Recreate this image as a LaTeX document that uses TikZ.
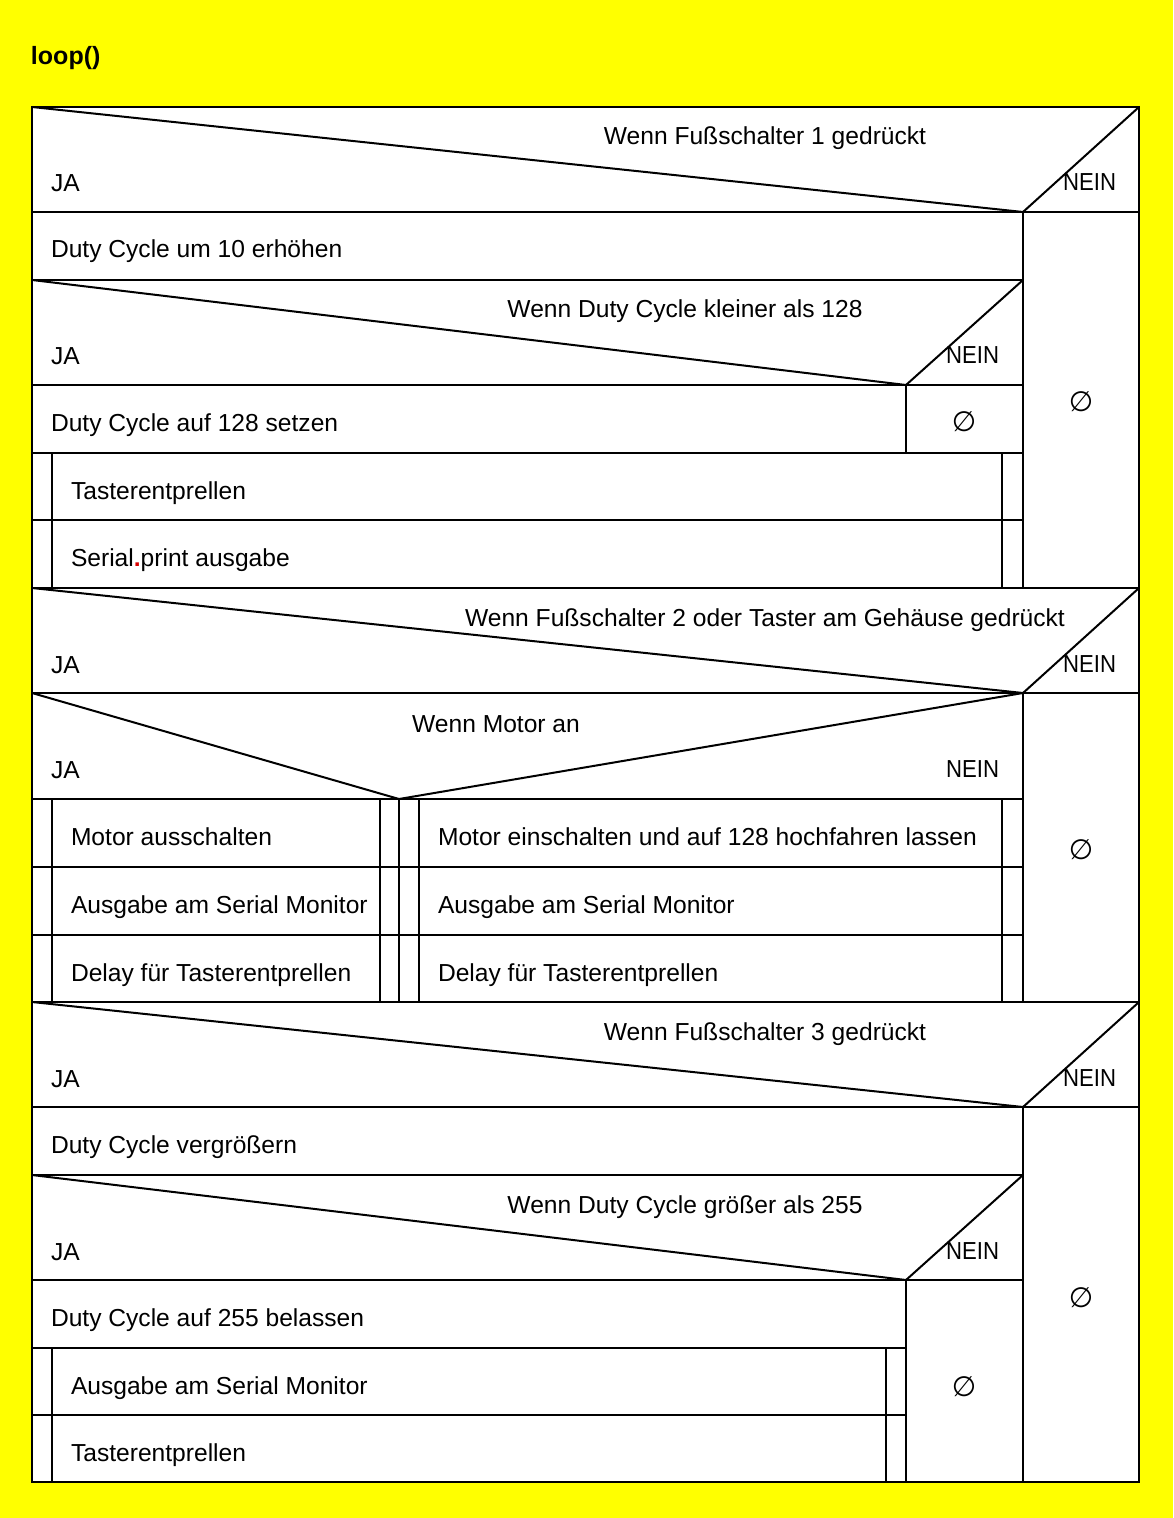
\documentclass[tikz,border=0pt]{standalone}
\usepackage{fontspec}
\setmainfont{Liberation Sans}
\newfontfamily\leerfont{DejaVu Sans}
\newfontfamily\neinfont[FakeStretch=0.9]{Liberation Sans}
\usetikzlibrary{positioning}
\definecolor{bg}{RGB}{255,255,0}

\begin{document}
\begin{tikzpicture}[x=0.5pt,y=-0.5pt,line width=1pt,
    row/.style={anchor=base west,inner sep=0pt,font=\fontsize{12.3}{14}\selectfont},
    cond/.style={anchor=base,inner sep=0pt,font=\fontsize{12.3}{14}\selectfont},
    ja/.style={row},
    nein/.style={anchor=base east,inner sep=0pt,font=\neinfont\fontsize{12.3}{14}\selectfont},
    leer/.style={inner sep=0pt,font=\leerfont\fontsize{14}{16}\selectfont}]

    \fill[bg] (0,0) rectangle (1173,1518);
    \useasboundingbox (0,0) rectangle (1173,1518);
    \node[anchor=base west,inner sep=0pt,font=\bfseries\fontsize{12.5}{15}\selectfont] (title) at (30,65) {loop()};
    \filldraw[fill=white] (32,107) rectangle (1139,1482);

    % Wenn Fusschalter 1
    \draw (32,107) -- (1023,212) -- (1139,107);
    \draw (32,212) -- (1139,212);
    \draw (1023,212) -- (1023,588);
    \draw (32,280) -- (1023,280);
    \draw (32,280) -- (906,385) -- (1023,280);
    \draw (32,385) -- (1023,385);
    \draw (906,385) -- (906,453);
    \draw (32,453) -- (1023,453);
    \draw (32,520) -- (1023,520);
    \draw (52,453) -- (52,588);
    \draw (1002,453) -- (1002,588);
    \draw (32,588) -- (1139,588);

    \node[cond] (c1)  at (765,145)  {Wenn Fußschalter 1 gedrückt};
    \node[ja]   (ja1) at (50,192)   {JA};
    \node[nein] (n1)  at (1117,191) {NEIN};
    \node[row]  (r1)  at (50,258)   {Duty Cycle um 10 erhöhen};
    \node[cond] (c2)  at (685,318)  {Wenn Duty Cycle kleiner als 128};
    \node[ja]   (ja2) at (50,365)   {JA};
    \node[nein] (n2)  at (1000,364) {NEIN};
    \node[row]  (r2)  at (50,431)   {Duty Cycle auf 128 setzen};
    \node[leer] (e2)  at (964,422)  {∅};
    \node[row]  (r3)  at (70,499)   {Tasterentprellen};
    \node[row]  (r4)  at (70,566)   {Serial{\color{red!85!black}\bfseries.}print ausgabe};
    \node[leer] (e1)  at (1081,402) {∅};

    % Wenn Fusschalter 2
    \draw (32,588) -- (1023,693) -- (1139,588);
    \draw (32,693) -- (1139,693);
    \draw (1023,693) -- (1023,1002);
    \draw (32,693) -- (399,799) -- (1023,693);
    \draw (32,799) -- (1023,799);
    \draw (399,799) -- (399,1002);
    \foreach \x in {52,380,419,1002}
        \draw (\x,799) -- (\x,1002);
    \foreach \y in {867,935}
        \draw (32,\y) -- (1023,\y);
    \draw (32,1002) -- (1139,1002);

    \node[cond] (c3)  at (765,626)  {Wenn Fußschalter 2 oder Taster am Gehäuse gedrückt};
    \node[ja]   (ja3) at (50,673)   {JA};
    \node[nein] (n3)  at (1117,672) {NEIN};
    \node[cond] (c4)  at (496,732)  {Wenn Motor an};
    \node[ja]   (ja4) at (50,778)   {JA};
    \node[nein] (n4)  at (1000,777) {NEIN};
    \node[row]  (m1)  at (70,845)   {Motor ausschalten};
    \node[row]  (m2)  at (70,913)   {Ausgabe am Serial Monitor};
    \node[row]  (m3)  at (70,981)   {Delay für Tasterentprellen};
    \node[row]  (m4)  at (437,845)  {Motor einschalten und auf 128 hochfahren lassen};
    \node[row]  (m5)  at (437,913)  {Ausgabe am Serial Monitor};
    \node[row]  (m6)  at (437,981)  {Delay für Tasterentprellen};
    \node[leer] (e3)  at (1081,850) {∅};

    % Wenn Fusschalter 3
    \draw (32,1002) -- (1023,1107) -- (1139,1002);
    \draw (32,1107) -- (1139,1107);
    \draw (1023,1107) -- (1023,1482);
    \draw (32,1175) -- (1023,1175);
    \draw (32,1175) -- (906,1280) -- (1023,1175);
    \draw (32,1280) -- (1023,1280);
    \draw (906,1280) -- (906,1482);
    \draw (32,1348) -- (906,1348);
    \draw (32,1415) -- (906,1415);
    \draw (52,1348) -- (52,1482);
    \draw (886,1348) -- (886,1482);

    \node[cond] (c5)  at (765,1040)  {Wenn Fußschalter 3 gedrückt};
    \node[ja]   (ja5) at (50,1087)   {JA};
    \node[nein] (n5)  at (1117,1086) {NEIN};
    \node[row]  (s1)  at (50,1153)   {Duty Cycle vergrößern};
    \node[cond] (c6)  at (685,1213)  {Wenn Duty Cycle größer als 255};
    \node[ja]   (ja6) at (50,1260)   {JA};
    \node[nein] (n6)  at (1000,1259) {NEIN};
    \node[row]  (s2)  at (50,1326)   {Duty Cycle auf 255 belassen};
    \node[row]  (s3)  at (70,1394)   {Ausgabe am Serial Monitor};
    \node[row]  (s4)  at (70,1461)   {Tasterentprellen};
    \node[leer] (e4)  at (1081,1298) {∅};
    \node[leer] (e5)  at (964,1387)  {∅};
\end{tikzpicture}
\end{document}
